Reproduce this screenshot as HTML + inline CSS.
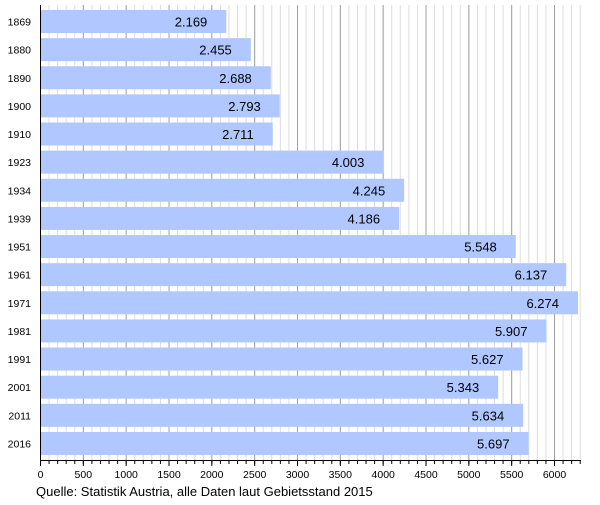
<!DOCTYPE html>
<html><head><meta charset="utf-8"><style>body{margin:0;background:#fff}</style></head><body>
<svg width="600" height="500" xmlns="http://www.w3.org/2000/svg" font-family="Liberation Sans, sans-serif">
<defs>
<pattern id="mn" patternUnits="userSpaceOnUse" x="40" y="0" width="8.5667" height="500"><rect x="0" y="0" width="1" height="500" fill="#dcdcdc"/></pattern>
<pattern id="mj" patternUnits="userSpaceOnUse" x="40" y="0" width="42.8333" height="500"><rect x="0" y="0" width="1" height="500" fill="#a0a0a0"/></pattern>
<pattern id="tn" patternUnits="userSpaceOnUse" x="40" y="0" width="8.5667" height="500"><rect x="0" y="0" width="1" height="500" fill="#000"/></pattern>
<pattern id="tj" patternUnits="userSpaceOnUse" x="40" y="0" width="42.8333" height="500"><rect x="0" y="0" width="1" height="500" fill="#000"/></pattern>
</defs>
<rect x="41" y="5" width="540" height="456" fill="url(#mn)"/>
<rect x="41" y="5" width="540" height="456" fill="url(#mj)"/>
<rect x="40" y="460" width="541" height="4" fill="url(#tn)"/>
<rect x="40" y="460" width="541" height="6" fill="url(#tj)"/>
<g fill="#b0c8ff">
<rect x="40.5" y="10" width="185.81" height="23"/>
<rect x="40.5" y="38.13" width="210.31" height="23"/>
<rect x="40.5" y="66.26" width="230.27" height="23"/>
<rect x="40.5" y="94.39" width="239.27" height="23"/>
<rect x="40.5" y="122.52" width="232.24" height="23"/>
<rect x="40.5" y="150.65" width="342.92" height="23"/>
<rect x="40.5" y="178.78" width="363.66" height="23"/>
<rect x="40.5" y="206.91" width="358.6" height="23"/>
<rect x="40.5" y="235.04" width="475.28" height="23"/>
<rect x="40.5" y="263.17" width="525.74" height="23"/>
<rect x="40.5" y="291.3" width="537.47" height="23"/>
<rect x="40.5" y="319.43" width="506.03" height="23"/>
<rect x="40.5" y="347.56" width="482.05" height="23"/>
<rect x="40.5" y="375.69" width="457.72" height="23"/>
<rect x="40.5" y="403.82" width="482.65" height="23"/>
<rect x="40.5" y="431.95" width="488.05" height="23"/>
</g>
<g font-size="13" text-anchor="end" fill="#000">
<text x="207.3" y="26.5">2.169</text>
<text x="231.8" y="54.6">2.455</text>
<text x="251.8" y="82.8">2.688</text>
<text x="260.8" y="110.9">2.793</text>
<text x="253.7" y="139">2.711</text>
<text x="364.4" y="167.2">4.003</text>
<text x="385.2" y="195.3">4.245</text>
<text x="380.1" y="223.4">4.186</text>
<text x="496.8" y="251.5">5.548</text>
<text x="547.2" y="279.7">6.137</text>
<text x="559" y="307.8">6.274</text>
<text x="527.5" y="335.9">5.907</text>
<text x="503.6" y="364.1">5.627</text>
<text x="479.2" y="392.2">5.343</text>
<text x="504.2" y="420.3">5.634</text>
<text x="509.6" y="448.5">5.697</text>
</g>
<g font-size="10.5" text-anchor="end" fill="#000">
<text x="31" y="25.5">1869</text>
<text x="31" y="53.6">1880</text>
<text x="31" y="81.8">1890</text>
<text x="31" y="109.9">1900</text>
<text x="31" y="138">1910</text>
<text x="31" y="166.2">1923</text>
<text x="31" y="194.3">1934</text>
<text x="31" y="222.4">1939</text>
<text x="31" y="250.5">1951</text>
<text x="31" y="278.7">1961</text>
<text x="31" y="306.8">1971</text>
<text x="31" y="334.9">1981</text>
<text x="31" y="363.1">1991</text>
<text x="31" y="391.2">2001</text>
<text x="31" y="419.3">2011</text>
<text x="31" y="447.5">2016</text>
</g>
<line x1="40.5" x2="40.5" y1="5" y2="461" stroke="#000"/>
<line x1="40" x2="581" y1="460.5" y2="460.5" stroke="#000"/>
<g font-size="10.5" text-anchor="middle" fill="#000">
<text x="40.5" y="478">0</text>
<text x="83.3" y="478">500</text>
<text x="126.2" y="478">1000</text>
<text x="169" y="478">1500</text>
<text x="211.8" y="478">2000</text>
<text x="254.7" y="478">2500</text>
<text x="297.5" y="478">3000</text>
<text x="340.3" y="478">3500</text>
<text x="383.2" y="478">4000</text>
<text x="426" y="478">4500</text>
<text x="468.8" y="478">5000</text>
<text x="511.7" y="478">5500</text>
<text x="554.5" y="478">6000</text>
</g>
<text x="36" y="496" font-size="13" fill="#000">Quelle: Statistik Austria, alle Daten laut Gebietsstand 2015</text>
</svg>
</body></html>
